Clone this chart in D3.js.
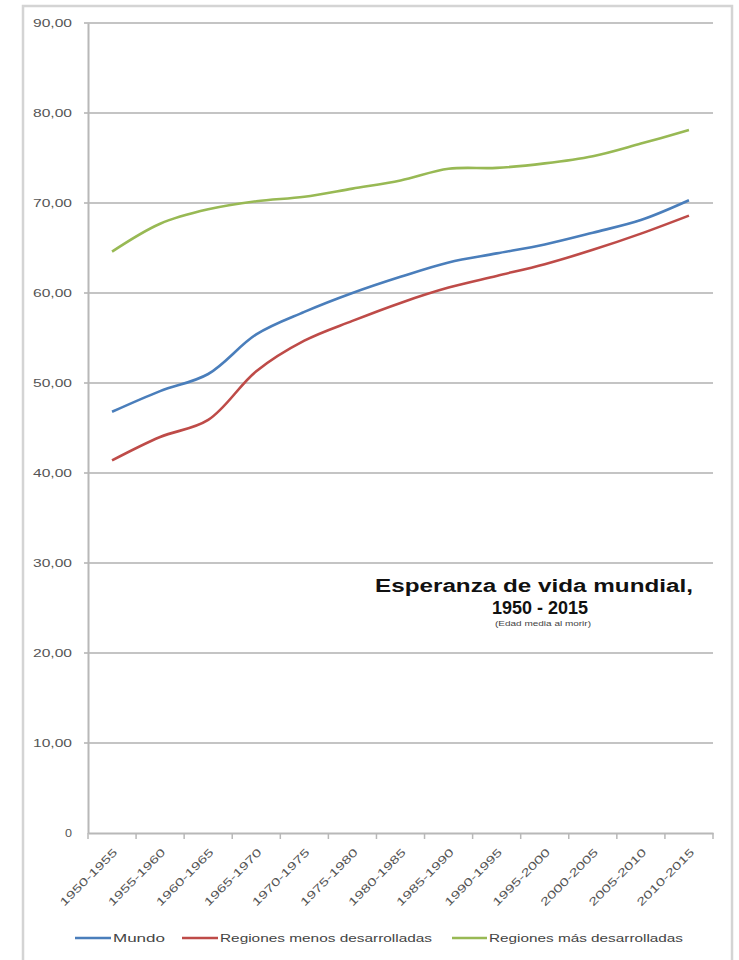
<!DOCTYPE html>
<html><head><meta charset="utf-8">
<script src="https://cdn.jsdelivr.net/npm/d3@7"></script>
<style>
html,body{margin:0;padding:0;background:#fff;}
svg{display:block;font-family:"Liberation Sans",Arial,sans-serif;}
</style></head>
<body><svg id="c" width="739" height="960"></svg>
<script>
const categories = ["1950-1955","1955-1960","1960-1965","1965-1970","1970-1975","1975-1980","1980-1985","1985-1990","1990-1995","1995-2000","2000-2005","2005-2010","2010-2015"];
const mundo = [46.8,49.1,51.0,55.4,57.9,60.0,61.8,63.4,64.4,65.4,66.7,68.1,70.3];
const menosDesarrolladas = [41.4,44.0,45.9,51.3,54.7,56.9,58.9,60.6,61.9,63.2,64.8,66.6,68.6];
const masDesarrolladas = [64.6,67.7,69.3,70.2,70.7,71.6,72.5,73.8,73.9,74.4,75.2,76.6,78.1];
const yTicks = [0,10,20,30,40,50,60,70,80,90];
const seriesNames = ["Mundo","Regiones menos desarrolladas","Regiones más desarrolladas"];
const titleLines = ["Esperanza de vida mundial,","1950 - 2015"];
const subtitle = "(Edad media al morir)";

const series = [
  {name: seriesNames[0], values: mundo, color: "#4A7EBB"},
  {name: seriesNames[1], values: menosDesarrolladas, color: "#BE4B48"},
  {name: seriesNames[2], values: masDesarrolladas, color: "#98B954"}
];

const svg = d3.select("#c");
// outer chart border
svg.append("rect").attr("x",23).attr("y",6).attr("width",709).attr("height",960)
  .attr("fill","#fff").attr("stroke","#d4d4d4").attr("stroke-width",2.5);

const L=88, R=713, T=23, B=833;
const x = d3.scaleBand().domain(categories).range([L,R]);
const y = d3.scaleLinear().domain([0,90]).range([B,T]);

// gridlines
svg.append("g").selectAll("line").data(yTicks.filter(d=>d>0)).join("line")
  .attr("x1",L-4).attr("x2",R).attr("y1",d=>y(d)).attr("y2",d=>y(d))
  .attr("stroke","#c4c4c4").attr("stroke-width",2);

// y axis
const yAxis = d3.axisLeft(y).tickValues(yTicks).tickSize(0).tickPadding(16)
  .tickFormat(d=> d===0 ? "0" : d3.format(".2f")(d).replace(".",","));
const gy = svg.append("g").attr("transform",`translate(${L},0)`).call(yAxis);
gy.select(".domain").attr("stroke","#b8b8b8").attr("stroke-width",2);
gy.selectAll("text").attr("font-size",11).attr("fill","#555")
  .attr("textLength",d=> d===0?7:39).attr("lengthAdjust","spacingAndGlyphs");

// x axis
const xAxis = d3.axisBottom(x).tickSize(0).tickFormat(d=>d);
const gx = svg.append("g").attr("transform",`translate(0,${B})`).call(xAxis);
gx.select(".domain").attr("stroke","#b8b8b8").attr("stroke-width",2);
// boundary tick marks
const bounds = categories.map(c=>x(c)).concat([R]);
gx.append("g").selectAll("line").data(bounds).join("line")
  .attr("x1",d=>d).attr("x2",d=>d).attr("y1",0).attr("y2",6)
  .attr("stroke","#b8b8b8").attr("stroke-width",1.5);
gx.selectAll(".tick text")
  .attr("font-size",11).attr("fill","#555")
  .attr("text-anchor","end").attr("dy",0).attr("y",0)
  .attr("transform","translate(6,20) rotate(-45)")
  .attr("textLength",76).attr("lengthAdjust","spacingAndGlyphs");

// lines
const line = d3.line().x((d,i)=>x(categories[i])+x.bandwidth()/2).y(d=>y(d))
  .curve(d3.curveCatmullRom.alpha(0.5));
svg.append("g").selectAll("path").data(series).join("path")
  .attr("d",d=>line(d.values)).attr("fill","none")
  .attr("stroke",d=>d.color).attr("stroke-width",2.6).attr("stroke-linejoin","round");

// title
const tg = svg.append("g").attr("font-weight","bold").attr("fill","#111").attr("text-anchor","middle");
tg.append("text").attr("x",534).attr("y",592).attr("font-size",18)
  .attr("textLength",318).attr("lengthAdjust","spacingAndGlyphs").text(titleLines[0]);
tg.append("text").attr("x",540).attr("y",614).attr("font-size",18)
  .attr("textLength",96).attr("lengthAdjust","spacingAndGlyphs").text(titleLines[1]);
svg.append("text").attr("x",543).attr("y",626).attr("font-size",8).attr("fill","#444")
  .attr("text-anchor","middle").attr("textLength",96).attr("lengthAdjust","spacingAndGlyphs").text(subtitle);

// legend
const legendPos = [{x1:75,x2:111,tx:113,tl:52},{x1:182,x2:218,tx:220,tl:212},{x1:452,x2:487,tx:489,tl:194}];
const lg = svg.append("g").selectAll("g").data(series).join("g");
lg.append("line").attr("x1",(d,i)=>legendPos[i].x1).attr("x2",(d,i)=>legendPos[i].x2)
  .attr("y1",938).attr("y2",938).attr("stroke",d=>d.color).attr("stroke-width",2.6);
lg.append("text").attr("x",(d,i)=>legendPos[i].tx).attr("y",942).attr("font-size",11).attr("fill","#444")
  .attr("textLength",(d,i)=>legendPos[i].tl).attr("lengthAdjust","spacingAndGlyphs").text(d=>d.name);
</script></body></html>
